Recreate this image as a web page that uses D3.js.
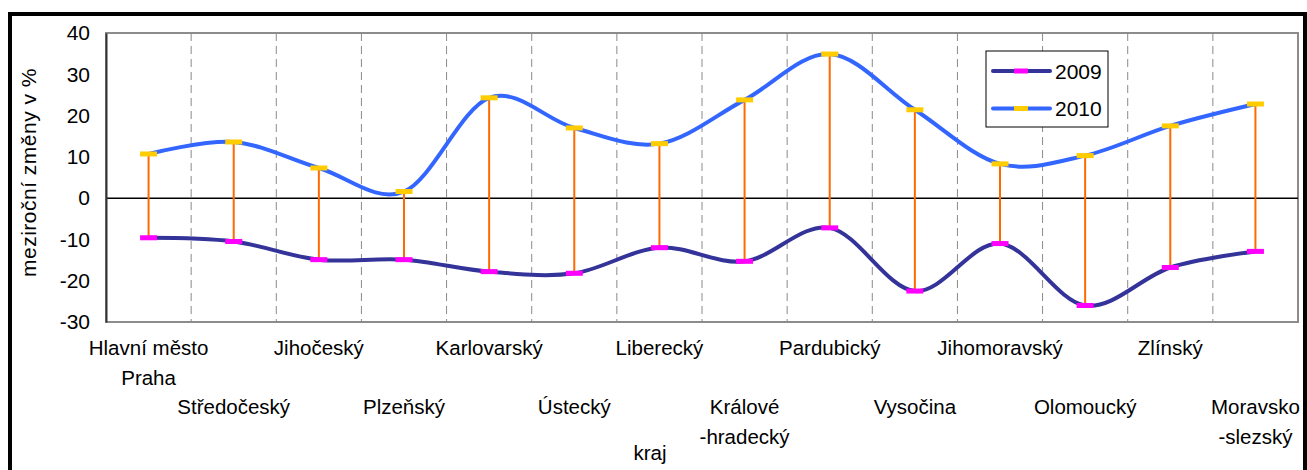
<!DOCTYPE html>
<html>
<head>
<meta charset="utf-8">
<script src="https://cdn.jsdelivr.net/npm/d3@7"></script>
<style>
    html, body { margin: 0; padding: 0; background: #fff; }
    text { font-family: "Liberation Sans", Arial, sans-serif; fill: #000; }
</style>
</head>
<body>
<div id="chart"></div>
<script>
// regions (kraje)
const categories = [
    'Hlavní město Praha', 'Středočeský', 'Jihočeský', 'Plzeňský', 'Karlovarský',
    'Ústecký', 'Liberecký', 'Královéhradecký', 'Pardubický', 'Vysočina',
    'Jihomoravský', 'Olomoucký', 'Zlínský', 'Moravskoslezský'
];
// tick labels as they wrap under the axis
const categoryLabels = [
    ['Hlavní město', 'Praha'], ['Středočeský'], ['Jihočeský'], ['Plzeňský'], ['Karlovarský'],
    ['Ústecký'], ['Liberecký'], ['Králové', '-hradecký'], ['Pardubický'], ['Vysočina'],
    ['Jihomoravský'], ['Olomoucký'], ['Zlínský'], ['Moravsko', '-slezský']
];
const values2009 = [-9.6, -10.5, -14.9, -14.9, -17.8, -18.2, -12.0, -15.3, -7.2, -22.5, -11.0, -26.0, -16.8, -12.9];
const values2010 = [10.7, 13.6, 7.3, 1.6, 24.3, 17.0, 13.2, 23.8, 34.9, 21.4, 8.3, 10.3, 17.5, 22.8];
const yTicks = [-30, -20, -10, 0, 10, 20, 30, 40];

const W = 1307, H = 470;
const plot = { left: 106, right: 1298, top: 33, bottom: 322 };

const svg = d3.select('#chart')
    .append('svg')
        .attr('width', W)
        .attr('height', H);

// outer frame
svg.append('rect')
    .attr('x', 10).attr('y', 14)
    .attr('width', 1295).attr('height', 520)
    .attr('fill', 'none')
    .attr('stroke', '#000')
    .attr('stroke-width', 4);

const x = d3.scaleBand()
    .domain(categories)
    .range([plot.left, plot.right])
    .padding(0);
const cx = c => x(c) + x.bandwidth() / 2;

const y = d3.scaleLinear()
    .domain([-30, 40])
    .range([plot.bottom, plot.top]);

// plot area border
svg.append('rect')
    .attr('x', plot.left).attr('y', plot.top)
    .attr('width', plot.right - plot.left).attr('height', plot.bottom - plot.top)
    .attr('fill', '#fff')
    .attr('stroke', '#8c8c8c')
    .attr('stroke-width', 2);

// dashed category gridlines
svg.append('g')
    .selectAll('line')
    .data(categories.slice(1))
    .enter()
    .append('line')
        .attr('x1', c => x(c)).attr('x2', c => x(c))
        .attr('y1', plot.top).attr('y2', plot.bottom)
        .attr('stroke', '#8a8a8a')
        .attr('stroke-width', 1)
        .attr('stroke-dasharray', '8,5');

// zero line (category axis)
svg.append('line')
    .attr('x1', plot.left).attr('x2', plot.right)
    .attr('y1', y(0)).attr('y2', y(0))
    .attr('stroke', '#000')
    .attr('stroke-width', 1.5);

// value axis
const yAxis = svg.append('g')
    .attr('transform', `translate(${plot.left},0)`)
    .call(d3.axisLeft(y)
        .tickValues(yTicks)
        .tickFormat(d => String(d))
        .tickSize(0).tickSizeOuter(0).tickPadding(16));
yAxis.select('.domain').attr('stroke', '#333').attr('stroke-width', 2);
yAxis.selectAll('text')
    .attr('font-size', 21)
    .attr('font-family', '"Liberation Sans", Arial, sans-serif')
    .attr('fill', '#000');

svg.append('text')
    .attr('transform', `translate(36,${(plot.top + plot.bottom) / 2 - 5}) rotate(-90)`)
    .attr('text-anchor', 'middle')
    .attr('font-size', 21)
    .attr('letter-spacing', 0.5)
    .text('meziroční změny v %');

// category labels, staggered in two bands
const rowY = [355, 384.5, 414, 443.5];
const labels = svg.append('g');
categories.forEach((c, i) => {
    const start = i % 2 === 0 ? 0 : 2;
    categoryLabels[i].forEach((line, j) => {
        labels.append('text')
            .attr('x', cx(c))
            .attr('y', rowY[start + j])
            .attr('text-anchor', 'middle')
            .attr('font-size', 20.5)
            .text(line);
    });
});

svg.append('text')
    .attr('x', 650).attr('y', 460)
    .attr('text-anchor', 'middle')
    .attr('font-size', 20.5)
    .text('kraj');

// high-low lines
svg.append('g')
    .selectAll('line')
    .data(categories)
    .enter()
    .append('line')
        .attr('x1', c => cx(c)).attr('x2', c => cx(c))
        .attr('y1', (c, i) => y(values2010[i]))
        .attr('y2', (c, i) => y(values2009[i]))
        .attr('stroke', '#ff6a00')
        .attr('stroke-width', 2);

const line = d3.line()
    .x(d => cx(d[0]))
    .y(d => y(d[1]))
    .curve(d3.curveCardinal.tension(0));

const series = [
    { name: '2009', values: values2009, color: '#333399', marker: '#ff00ff' },
    { name: '2010', values: values2010, color: '#3366ff', marker: '#ffcc00' }
];

series.forEach(s => {
    const pts = categories.map((c, i) => [c, s.values[i]]);
    svg.append('path')
        .attr('d', line(pts))
        .attr('fill', 'none')
        .attr('stroke', s.color)
        .attr('stroke-width', 4)
        .attr('stroke-linejoin', 'round');
    svg.append('g')
        .selectAll('rect')
        .data(pts)
        .enter()
        .append('rect')
            .attr('x', d => cx(d[0]) - 8.5)
            .attr('y', d => y(d[1]) - 2.5)
            .attr('width', 17)
            .attr('height', 5)
            .attr('fill', s.marker);
});

// legend
const legend = svg.append('g').attr('transform', 'translate(986,51)');
legend.append('rect')
    .attr('width', 122).attr('height', 76)
    .attr('fill', '#fff')
    .attr('stroke', '#000')
    .attr('stroke-width', 1);
series.forEach((s, i) => {
    const ly = 20 + i * 37.5;
    legend.append('line')
        .attr('x1', 7).attr('x2', 64)
        .attr('y1', ly).attr('y2', ly)
        .attr('stroke', s.color)
        .attr('stroke-width', 4)
        .attr('stroke-linecap', 'round');
    legend.append('rect')
        .attr('x', 28).attr('y', ly - 2.5)
        .attr('width', 14).attr('height', 5)
        .attr('fill', s.marker);
    legend.append('text')
        .attr('x', 69).attr('y', ly + 7.5)
        .attr('font-size', 21)
        .text(s.name);
});
</script>
</body>
</html>
